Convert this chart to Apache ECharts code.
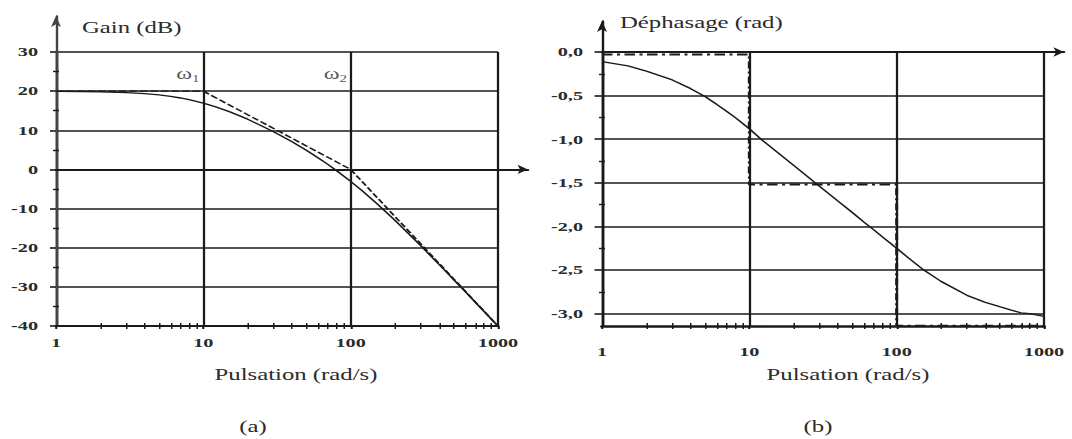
<!DOCTYPE html>
<html><head><meta charset="utf-8">
<script src="https://cdn.jsdelivr.net/npm/echarts@6/dist/echarts.min.js"></script>
<style>
html,body{margin:0;padding:0;background:#fff;overflow:hidden;width:1072px;height:439px}
#main{height:439px;transform-origin:0 0;}
</style></head>
<body><div id="main"></div>
<script>
// ---- data ----
const omega = [1,1.5,2,3,4,5,6,7,8,10,12,15,20,30,40,50,60,70,80,100,120,150,200,300,400,500,600,700,800,1000];
const gainReal = [19.96,19.90,19.83,19.62,19.35,19.02,18.65,18.25,17.82,16.95,16.06,14.78,12.84,9.63,7.05,4.88,2.99,1.28,-0.28,-3.05,-5.49,-8.66,-13.02,-19.55,-24.35,-28.13,-31.24,-33.89,-36.19,-40.04];
const phaseReal = [-0.11,-0.16,-0.22,-0.32,-0.42,-0.51,-0.60,-0.68,-0.75,-0.88,-1.00,-1.13,-1.30,-1.54,-1.71,-1.84,-1.95,-2.04,-2.12,-2.25,-2.36,-2.49,-2.63,-2.79,-2.87,-2.92,-2.96,-2.99,-3.00,-3.03];
const gainAsymOmega = [1,10,100,1000];
const gainAsym = [20,20,0,-40];
const phaseAsymOmega = [1,10,10,100,100,1000];
const phaseAsym = [-0.03,-0.03,-1.52,-1.52,-3.14,-3.14];
const cornerOmega = [10,100];
const cornerLabelY = [24.2,24.2];
const cornerIndex = ['1','2'];
const gainRange = [-40,30];
const gainMinorTicks = [25,15,5,-5,-15,-25,-35];
const phaseRange = [-3.1416,0];
const phaseTicks = [0,-0.5,-1,-1.5,-2,-2.5,-3];
const phaseMinorTicks = [-0.25,-0.75,-1.25,-1.75,-2.25,-2.75];
const freqRange = [1,1000];
const freqTicks = [1,10,100,1000];
const freqMinorTicks = [2,3,4,5,6,7,8,9,20,30,40,50,60,70,80,90,200,300,400,500,600,700,800,900];
const titles = {gain:'Gain (dB)', phase:'Déphasage (rad)', xname:'Pulsation (rad/s)', a:'(a)', b:'(b)'};

// ---- layout ----
const S = 1.5;                 // horizontal stretch of the reference
const W = 1072 / S;
const X = v => v / S;
const el = document.getElementById('main');
el.style.width = W + 'px';
el.style.transform = 'scaleX(' + S + ')';

const FONT = "'Liberation Serif','DejaVu Serif',serif";
const INK = '#1a1a1a';
const TXT = '#2b2b2b';
const tickLabel = {fontFamily: FONT, fontSize: 13.5, fontWeight: 'bold', color: TXT};
const hidden = {show: false};
const titleStyle = {fontFamily: FONT, fontSize: 16.5, fontWeight: 'normal', color: TXT};

function minorX(grid) {
  return {gridIndex: grid, type: 'log', logBase: 10, min: freqRange[0], max: freqRange[1], position: 'bottom', offset: 3,
    axisLine: {show: false, onZero: false}, axisLabel: hidden, splitLine: hidden,
    axisTick: {show: true, inside: true, length: 6, customValues: freqMinorTicks, lineStyle: {color: INK, width: 1}}};
}
function minorY(grid, range, vals) {
  return {gridIndex: grid, type: 'value', min: range[0], max: range[1], position: 'left', offset: 2,
    axisLine: {show: false, onZero: false}, axisLabel: hidden, splitLine: hidden,
    axisTick: {show: true, inside: true, length: 4, customValues: vals, lineStyle: {color: INK, width: 1.4}}};
}
function mainX(grid, margin, lineW) {
  return {gridIndex: grid, type: 'log', logBase: 10, min: freqRange[0], max: freqRange[1], position: 'bottom',
    axisLine: {show: true, onZero: false, lineStyle: {color: INK, width: lineW}},
    axisTick: {show: true, length: 3, customValues: freqTicks, lineStyle: {color: INK, width: 1.4}},
    axisLabel: Object.assign({margin: margin, customValues: freqTicks, formatter: v => String(Math.round(v))}, tickLabel),
    splitLine: {show: true, lineStyle: {color: INK, width: 1.5}}};
}

const option = {
  animation: false,
  backgroundColor: '#fff',
  title: [
    {text: titles.gain, left: X(82), top: 19, padding: 0, textStyle: titleStyle},
    {text: titles.phase, left: X(620), top: 14, padding: 0, textStyle: titleStyle},
    {text: titles.xname, left: X(296), top: 366, padding: 0, textAlign: 'center', textStyle: titleStyle},
    {text: titles.xname, left: X(848), top: 366, padding: 0, textAlign: 'center', textStyle: titleStyle},
    {text: titles.a, left: X(253), top: 418, padding: 0, textAlign: 'center', textStyle: titleStyle},
    {text: titles.b, left: X(818), top: 418, padding: 0, textAlign: 'center', textStyle: titleStyle}
  ],
  grid: [
    {left: X(56), top: 52, width: X(442), height: 274},   // 0 gain
    {left: X(602), top: 52, width: X(442), height: 274},  // 1 phase
    {left: X(56), top: 16, width: 1, height: 310},        // 2 gain y arrow
    {left: X(56), top: 52, width: X(472), height: 274},   // 3 gain x arrow (on zero)
    {left: X(602), top: 21, width: 1, height: 305},       // 4 phase y arrow
    {left: X(602), top: 52, width: X(462), height: 274}   // 5 phase x arrow (top)
  ],
  xAxis: [
    mainX(0, 10, 2),
    minorX(0),
    mainX(1, 19, 2.6),
    minorX(1),
    {gridIndex: 2, type: 'value', show: false},
    {gridIndex: 3, type: 'value', min: 0, max: 1,
      axisLine: {show: true, onZero: true, symbol: ['none', 'arrow'], symbolSize: [7, 7], lineStyle: {color: INK, width: 1.8}},
      axisTick: hidden, axisLabel: hidden, splitLine: hidden},
    {gridIndex: 4, type: 'value', show: false},
    {gridIndex: 5, type: 'value', min: 0, max: 1, position: 'top',
      axisLine: {show: true, onZero: false, symbol: ['none', 'arrow'], symbolSize: [7, 7], lineStyle: {color: INK, width: 1.8}},
      axisTick: hidden, axisLabel: hidden, splitLine: hidden}
  ],
  yAxis: [
    {gridIndex: 0, type: 'value', min: gainRange[0], max: gainRange[1], interval: 10,
      axisLine: {show: true, onZero: false, lineStyle: {color: INK, width: 1.6}},
      axisTick: {show: true, length: 4, lineStyle: {color: INK, width: 1.6}},
      axisLabel: Object.assign({margin: X(18)}, tickLabel),
      splitLine: {show: true, lineStyle: {color: INK, width: 1.7}}},
    minorY(0, gainRange, gainMinorTicks),
    {gridIndex: 1, type: 'value', min: phaseRange[0], max: phaseRange[1],
      axisLine: {show: true, onZero: false, lineStyle: {color: INK, width: 1.6}},
      axisTick: {show: true, length: 5, customValues: phaseTicks, lineStyle: {color: INK, width: 1.6}},
      axisLabel: Object.assign({margin: X(19), customValues: phaseTicks,
        formatter: v => Number(v).toFixed(1).replace('.', ',')}, tickLabel),
      splitLine: {show: true, lineStyle: {color: INK, width: 1.7}}},
    minorY(1, phaseRange, phaseMinorTicks),
    {gridIndex: 2, type: 'value', min: 0, max: 1,
      axisLine: {show: true, onZero: false, symbol: ['none', 'arrow'], symbolSize: [5, 11], lineStyle: {color: '#444', width: 1.6}},
      axisTick: hidden, axisLabel: hidden, splitLine: hidden},
    {gridIndex: 3, type: 'value', min: gainRange[0], max: gainRange[1], show: false},
    {gridIndex: 4, type: 'value', min: 0, max: 1,
      axisLine: {show: true, onZero: false, symbol: ['none', 'arrow'], symbolSize: [5, 11], lineStyle: {color: INK, width: 1.6}},
      axisTick: hidden, axisLabel: hidden, splitLine: hidden},
    {gridIndex: 5, type: 'value', min: phaseRange[0], max: phaseRange[1], show: false}
  ],
  series: [
    {type: 'line', xAxisIndex: 0, yAxisIndex: 0, symbol: 'none', silent: true,
      lineStyle: {color: INK, width: 1.4, type: [5, 2]},
      data: gainAsymOmega.map((w, i) => [w, gainAsym[i]])},
    {type: 'line', xAxisIndex: 0, yAxisIndex: 0, symbol: 'none', silent: true,
      lineStyle: {color: INK, width: 1.3},
      data: omega.map((w, i) => [w, gainReal[i]])},
    {type: 'scatter', xAxisIndex: 0, yAxisIndex: 0, symbol: 'circle', symbolSize: 1,
      itemStyle: {color: 'rgba(0,0,0,0)'}, silent: true,
      label: {show: true, position: 'left', distance: 2,
        formatter: p => '{w|ω}{s|' + p.data[2] + '}',
        rich: {w: {fontFamily: FONT, fontSize: 16, color: TXT, lineHeight: 18, verticalAlign: 'top'},
               s: {fontFamily: FONT, fontSize: 10, color: TXT, lineHeight: 18, verticalAlign: 'bottom'}}},
      data: cornerOmega.map((w, i) => [w, cornerLabelY[i], cornerIndex[i]])},
    {type: 'line', xAxisIndex: 2, yAxisIndex: 2, symbol: 'none', silent: true,
      lineStyle: {color: INK, width: 2, type: [7, 3, 2, 3]},
      data: phaseAsymOmega.map((w, i) => [w, phaseAsym[i]])},
    {type: 'line', xAxisIndex: 2, yAxisIndex: 2, symbol: 'none', silent: true,
      lineStyle: {color: INK, width: 1.3},
      data: omega.map((w, i) => [w, phaseReal[i]])}
  ]
};
const chart = echarts.init(el, null, {renderer: 'svg', width: W, height: 439});
chart.setOption(option);
</script>
</body></html>
